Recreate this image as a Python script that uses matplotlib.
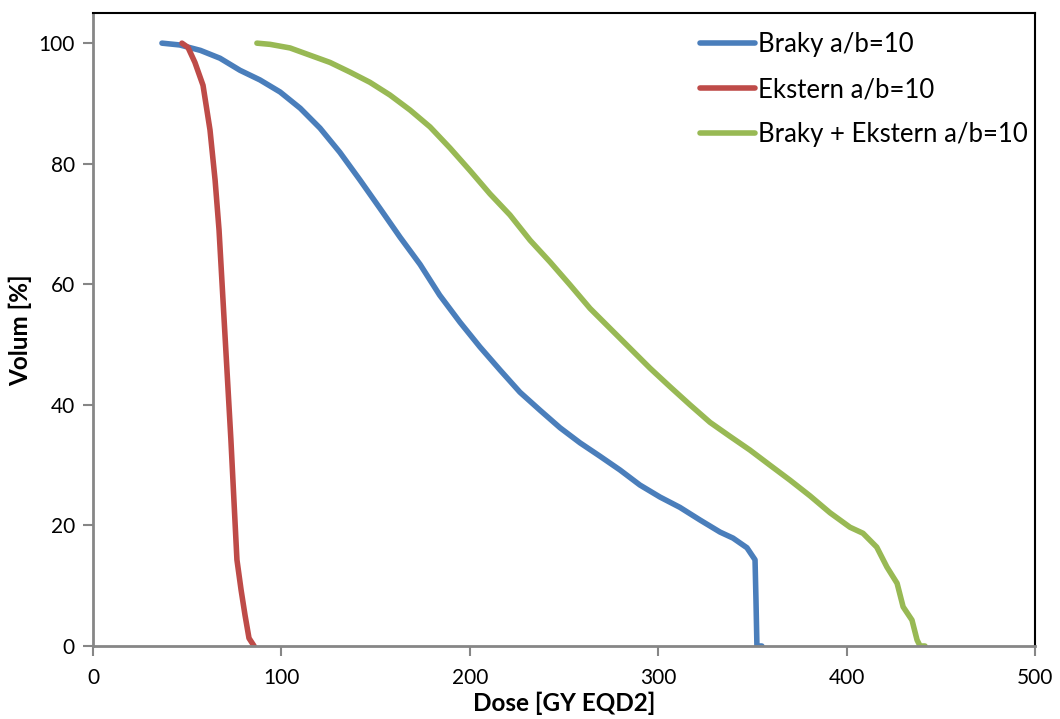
import matplotlib
matplotlib.use("Agg")
import matplotlib.pyplot as plt

plt.rcParams['font.family'] = ['Lato', 'DejaVu Sans']

# Dose-volume histogram curves (dose in Gy EQD2, volume in %)
braky_dose = [36.6, 46, 57, 67.4, 78, 88.6, 99.3, 110, 120.5, 131, 141.7, 152.3, 163,
              173.6, 184, 194.8, 205.4, 216, 226.6, 237.3, 247.9, 258.5, 269, 279.7,
              290.3, 301, 311.5, 322.2, 332.8, 339.7, 347.1, 351.4, 351.9, 352.4, 355]
braky_vol = [100, 99.7, 98.8, 97.5, 95.5, 93.9, 91.9, 89.2, 85.9, 81.9, 77.3, 72.6, 67.8,
             63.3, 58.2, 53.7, 49.6, 45.8, 42.1, 39.1, 36.2, 33.7, 31.5, 29.2,
             26.7, 24.7, 23, 20.9, 18.9, 17.9, 16.3, 14.3, 7.6, 0, 0]

ekstern_dose = [47.2, 50.4, 54.1, 58.4, 62.1, 64.8, 66.9, 69, 71.1, 73.2, 74.8, 76.4,
                78.6, 80.7, 82.8, 85.5]
ekstern_vol = [100, 99.3, 96.8, 93, 85.6, 77.3, 69, 57.4, 45.8, 34.2, 24.2, 14.3,
               9.3, 5.1, 1.3, 0]

sum_dose = [87, 94, 104.6, 115.2, 125.8, 136.4, 147, 157.6, 168.3, 178.9, 189.5, 200,
            210.7, 221.3, 232, 242.6, 253.2, 263.8, 274.4, 285, 295.6, 306.3, 316.9,
            327.5, 338, 348.7, 359.3, 370, 380.6, 391.2, 401.8, 408.7, 416, 421.4,
            426.8, 430, 434.7, 437.4, 439, 441.6]
sum_vol = [100, 99.8, 99.2, 98, 96.8, 95.2, 93.5, 91.4, 88.9, 86.1, 82.6, 78.9,
           75, 71.5, 67.3, 63.7, 59.9, 56, 52.7, 49.4, 46.1, 43, 40,
           37.1, 34.8, 32.5, 30.0, 27.5, 24.9, 22.1, 19.7, 18.7, 16.4, 13.1,
           10.4, 6.5, 4.3, 1, 0, 0]

labels = ['Braky a/b=10', 'Ekstern a/b=10', 'Braky + Ekstern a/b=10']
colors = ['#4A7EBB', '#BE4B48', '#98B954']
x_ticks = [0, 100, 200, 300, 400, 500]
y_ticks = [0, 20, 40, 60, 80, 100]

W, H = 1060, 719
fig = plt.figure(figsize=(W / 100, H / 100), dpi=100)
ax = fig.add_axes([93 / W, 1 - 646 / H, (1035 - 93) / W, (646 - 13) / H])

series = [(braky_dose, braky_vol), (ekstern_dose, ekstern_vol), (sum_dose, sum_vol)]
for (d, v), lab, c in zip(series, labels, colors):
    ax.plot(d, v, color=c, lw=4, label=lab, solid_capstyle='round',
            solid_joinstyle='round')

ax.set_xlim(0, 500)
ax.set_ylim(0, 105)
ax.set_xticks(x_ticks)
ax.set_yticks(y_ticks)
ax.tick_params(axis='both', labelsize=15, color='#868686', width=1.5, length=7,
               direction='out')
ax.tick_params(axis='x', pad=9)
ax.tick_params(axis='y', pad=6)

for side in ['left', 'bottom']:
    ax.spines[side].set_color('#868686')
    ax.spines[side].set_linewidth(2)
for side in ['top', 'right']:
    ax.spines[side].set_color('black')
    ax.spines[side].set_linewidth(1.5)

fig.text(564 / W, 1 - 703 / H, 'Dose [GY EQD2]', fontsize=17.5, fontweight='bold',
         ha='center', va='center')
fig.text(20 / W, 1 - 330 / H, 'Volum [%]', fontsize=17.5, fontweight='bold',
         ha='center', va='center', rotation=90)

ax.legend(loc='upper left', bbox_to_anchor=(700 / W, 1 - 32 / H),
          bbox_transform=fig.transFigure, frameon=False, fontsize=18.5,
          handlelength=2.14, handletextpad=0.12, labelspacing=0.78,
          borderpad=0, borderaxespad=0)

fig.savefig('out.png', dpi=100)
